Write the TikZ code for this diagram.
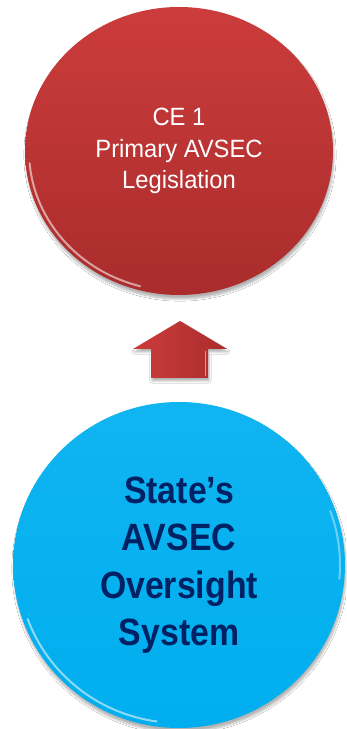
\documentclass[tikz,border=0pt]{standalone}
\usepackage{fontspec}
\setmainfont{Liberation Sans}
\newfontfamily\narrowbold[FakeStretch=0.89]{Liberation Sans}
\newfontfamily\narrowreg[FakeStretch=0.95]{Liberation Sans}
\usetikzlibrary{shapes.geometric,shadows.blur,fadings}
\definecolor{redtop}{RGB}{204,60,60}
\definecolor{redbot}{RGB}{170,44,44}
\definecolor{bluetop}{RGB}{16,180,240}
\definecolor{bluebot}{RGB}{0,174,239}
\definecolor{navy}{RGB}{0,34,100}
\begin{document}
\begin{tikzpicture}[x=1pt,y=1pt,
  ball/.style={ellipse, inner sep=0pt, draw=none,
    blur shadow={shadow xshift=1pt, shadow yshift=-4pt, shadow blur steps=8, shadow opacity=30}},
  gloss/.style={white, line width=2pt, opacity=0.55, line cap=round},
  redtext/.style={text=white, align=center, font=\narrowreg\fontsize{25}{31.7}\selectfont},
  bluetext/.style={text=navy, align=center, font=\narrowbold\bfseries\fontsize{38}{47.5}\selectfont}]
\useasboundingbox (0,0) rectangle (346,729);
\fill[white] (0,0) rectangle (346,729);
% top circle
\node[ball, minimum width=308pt, minimum height=288pt, top color=redtop, bottom color=redbot, redtext]
  (legis) at (179,578) {CE 1\\Primary AVSEC\\Legislation};
\draw[gloss] ([shift={(185:150pt and 140pt)}]legis.center) arc[start angle=185, end angle=255, x radius=150pt, y radius=140pt];
% bottom circle
\node[ball, minimum width=332pt, minimum height=326pt, top color=bluetop, bottom color=bluebot, bluetext]
  (state) at (179,164) {State’s\\AVSEC\\Oversight\\System};
\draw[gloss] ([shift={(200:161pt and 158pt)}]state.center) arc[start angle=200, end angle=262, x radius=161pt, y radius=158pt];
\draw[gloss, opacity=0.4] ([shift={(20:161pt and 158pt)}]state.center) arc[start angle=20, end angle=-5, x radius=161pt, y radius=158pt];
% block arrow
\coordinate (tip) at (180,408);
\path[left color=redtop, right color=redbot, blur shadow={shadow xshift=1pt, shadow yshift=-3pt, shadow blur steps=6, shadow opacity=30}]
  (151,351) -- (151,380) -- (133,380) -- (tip) -- (227,380) -- (208,380) -- (208,351) -- cycle;
\draw[white, opacity=0.5, line width=1.2pt] (205.5,353) -- (205.5,378);
\end{tikzpicture}
\end{document}
